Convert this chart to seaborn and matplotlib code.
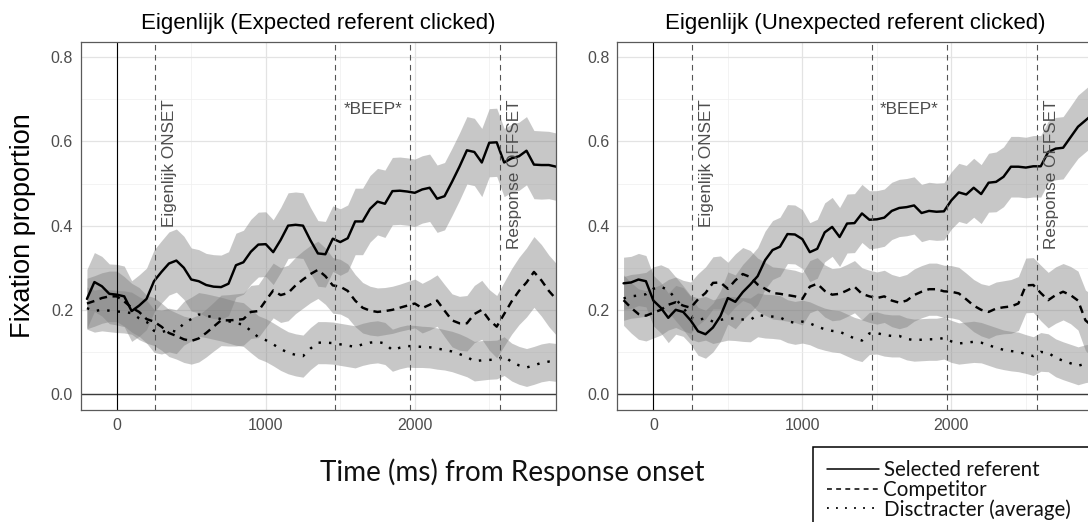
import numpy as np
import pandas as pd
import matplotlib
matplotlib.use("Agg")
import matplotlib.pyplot as plt
import seaborn as sns
from matplotlib.lines import Line2D
from matplotlib.ticker import MultipleLocator, FixedLocator, FormatStrFormatter

# ---------------- data ----------------
time_ms = [-200, -150, -100, -50, 0, 50, 100, 150, 200, 250,
           300, 350, 400, 450, 500, 550, 600, 650, 700, 750,
           800, 850, 900, 950, 1000, 1050, 1100, 1150, 1200, 1250,
           1300, 1350, 1400, 1450, 1500, 1550, 1600, 1650, 1700, 1750,
           1800, 1850, 1900, 1950, 2000, 2050, 2100, 2150, 2200, 2250,
           2300, 2350, 2400, 2450, 2500, 2550, 2600, 2650, 2700, 2750,
           2800, 2850, 2900, 2950]

# Panel 1: Expected referent clicked
sel_expected = [0.226, 0.266, 0.256, 0.238, 0.236, 0.232, 0.197, 0.210, 0.226, 0.268,
                0.290, 0.310, 0.317, 0.300, 0.272, 0.268, 0.259, 0.255, 0.254, 0.262,
                0.306, 0.313, 0.338, 0.355, 0.356, 0.337, 0.366, 0.400, 0.402, 0.400,
                0.365, 0.334, 0.332, 0.369, 0.361, 0.370, 0.410, 0.410, 0.440, 0.457,
                0.452, 0.482, 0.483, 0.481, 0.478, 0.486, 0.490, 0.464, 0.470, 0.504,
                0.540, 0.579, 0.575, 0.550, 0.597, 0.598, 0.550, 0.560, 0.565, 0.578,
                0.545, 0.544, 0.544, 0.540]
comp_expected = [0.215, 0.221, 0.228, 0.232, 0.232, 0.220, 0.205, 0.195, 0.178, 0.172,
                 0.160, 0.145, 0.138, 0.130, 0.126, 0.132, 0.145, 0.160, 0.175, 0.175,
                 0.176, 0.178, 0.195, 0.197, 0.222, 0.246, 0.235, 0.240, 0.258, 0.272,
                 0.285, 0.295, 0.280, 0.258, 0.255, 0.245, 0.222, 0.205, 0.198, 0.195,
                 0.197, 0.200, 0.205, 0.210, 0.215, 0.204, 0.212, 0.222, 0.198, 0.175,
                 0.168, 0.168, 0.190, 0.200, 0.176, 0.160, 0.190, 0.220, 0.245, 0.265,
                 0.290, 0.270, 0.245, 0.225]
dist_expected = [0.204, 0.197, 0.200, 0.198, 0.196, 0.195, 0.192, 0.180, 0.172, 0.150,
                 0.147, 0.152, 0.148, 0.168, 0.178, 0.189, 0.186, 0.182, 0.178, 0.173,
                 0.168, 0.165, 0.150, 0.135, 0.128, 0.118, 0.107, 0.098, 0.093, 0.090,
                 0.108, 0.122, 0.122, 0.121, 0.118, 0.115, 0.112, 0.118, 0.122, 0.124,
                 0.120, 0.104, 0.110, 0.114, 0.113, 0.112, 0.111, 0.108, 0.105, 0.101,
                 0.095, 0.088, 0.078, 0.080, 0.081, 0.082, 0.090, 0.076, 0.068, 0.063,
                 0.068, 0.074, 0.077, 0.075]
se_sel_expected = [0.070, 0.070, 0.071, 0.071, 0.072, 0.072, 0.072, 0.073, 0.073, 0.074,
                   0.074, 0.075, 0.075, 0.075, 0.075, 0.075, 0.075, 0.076, 0.076, 0.076,
                   0.076, 0.076, 0.077, 0.077, 0.077, 0.077, 0.077, 0.078, 0.078, 0.078,
                   0.078, 0.078, 0.078, 0.078, 0.079, 0.079, 0.079, 0.079, 0.079, 0.079,
                   0.080, 0.080, 0.080, 0.080, 0.080, 0.080, 0.080, 0.080, 0.080, 0.080,
                   0.080, 0.080, 0.080, 0.081, 0.081, 0.081, 0.081, 0.081, 0.081, 0.081,
                   0.081, 0.081, 0.080, 0.080]
se_comp_expected = [0.060, 0.060, 0.060, 0.060, 0.060, 0.059, 0.058, 0.058, 0.057, 0.057,
                    0.056, 0.056, 0.055, 0.055, 0.055, 0.056, 0.057, 0.058, 0.060, 0.061,
                    0.062, 0.062, 0.063, 0.063, 0.064, 0.065, 0.065, 0.066, 0.067, 0.068,
                    0.068, 0.068, 0.067, 0.066, 0.065, 0.064, 0.062, 0.060, 0.058, 0.057,
                    0.056, 0.056, 0.056, 0.057, 0.058, 0.059, 0.060, 0.061, 0.062, 0.063,
                    0.064, 0.066, 0.068, 0.070, 0.072, 0.074, 0.076, 0.078, 0.080, 0.082,
                    0.084, 0.085, 0.085, 0.085]
se_dist_expected = [0.050, 0.050, 0.050, 0.050, 0.050, 0.050, 0.050, 0.051, 0.051, 0.051,
                    0.052, 0.052, 0.052, 0.052, 0.052, 0.052, 0.052, 0.052, 0.052, 0.052,
                    0.052, 0.052, 0.052, 0.051, 0.051, 0.051, 0.051, 0.050, 0.050, 0.050,
                    0.050, 0.050, 0.050, 0.050, 0.050, 0.050, 0.050, 0.050, 0.050, 0.050,
                    0.050, 0.050, 0.050, 0.050, 0.050, 0.049, 0.049, 0.049, 0.048, 0.048,
                    0.048, 0.047, 0.047, 0.047, 0.046, 0.046, 0.046, 0.045, 0.045, 0.045,
                    0.045, 0.045, 0.045, 0.045]

# Panel 2: Unexpected referent clicked
sel_unexpected = [0.263, 0.265, 0.272, 0.268, 0.222, 0.205, 0.181, 0.200, 0.195, 0.175,
                  0.149, 0.142, 0.158, 0.185, 0.228, 0.219, 0.242, 0.260, 0.280, 0.318,
                  0.342, 0.350, 0.380, 0.379, 0.368, 0.337, 0.345, 0.384, 0.397, 0.373,
                  0.405, 0.406, 0.429, 0.414, 0.415, 0.419, 0.435, 0.442, 0.444, 0.448,
                  0.430, 0.435, 0.433, 0.434, 0.460, 0.479, 0.474, 0.490, 0.475, 0.502,
                  0.504, 0.516, 0.540, 0.540, 0.538, 0.541, 0.541, 0.575, 0.583, 0.585,
                  0.610, 0.635, 0.650, 0.665]
comp_unexpected = [0.223, 0.205, 0.190, 0.186, 0.193, 0.200, 0.212, 0.218, 0.210, 0.205,
                   0.225, 0.240, 0.264, 0.265, 0.250, 0.270, 0.285, 0.278, 0.260, 0.250,
                   0.240, 0.238, 0.235, 0.232, 0.226, 0.255, 0.262, 0.245, 0.236, 0.238,
                   0.246, 0.255, 0.238, 0.232, 0.228, 0.232, 0.222, 0.217, 0.222, 0.235,
                   0.243, 0.249, 0.249, 0.244, 0.243, 0.239, 0.225, 0.210, 0.200, 0.195,
                   0.203, 0.206, 0.208, 0.215, 0.258, 0.259, 0.240, 0.223, 0.235, 0.243,
                   0.235, 0.222, 0.175, 0.160]
dist_unexpected = [0.227, 0.232, 0.234, 0.237, 0.250, 0.255, 0.247, 0.226, 0.205, 0.182,
                   0.176, 0.180, 0.172, 0.176, 0.180, 0.179, 0.177, 0.176, 0.188, 0.185,
                   0.184, 0.182, 0.173, 0.169, 0.172, 0.168, 0.160, 0.154, 0.150, 0.148,
                   0.140, 0.132, 0.127, 0.144, 0.145, 0.140, 0.138, 0.138, 0.131, 0.128,
                   0.129, 0.130, 0.130, 0.133, 0.125, 0.120, 0.122, 0.124, 0.122, 0.116,
                   0.110, 0.105, 0.102, 0.100, 0.095, 0.090, 0.100, 0.098, 0.086, 0.079,
                   0.073, 0.067, 0.072, 0.075]
se_sel_unexpected = [0.062, 0.062, 0.062, 0.061, 0.060, 0.060, 0.059, 0.058, 0.058, 0.057,
                     0.057, 0.057, 0.058, 0.060, 0.062, 0.064, 0.066, 0.067, 0.068, 0.069,
                     0.070, 0.070, 0.070, 0.070, 0.070, 0.070, 0.070, 0.070, 0.070, 0.070,
                     0.070, 0.070, 0.069, 0.069, 0.068, 0.068, 0.068, 0.068, 0.068, 0.068,
                     0.068, 0.068, 0.068, 0.068, 0.068, 0.069, 0.069, 0.070, 0.070, 0.070,
                     0.071, 0.071, 0.072, 0.072, 0.072, 0.073, 0.073, 0.073, 0.074, 0.074,
                     0.074, 0.075, 0.075, 0.075]
se_comp_unexpected = [0.060, 0.060, 0.060, 0.060, 0.060, 0.060, 0.060, 0.060, 0.060, 0.061,
                      0.061, 0.062, 0.062, 0.063, 0.063, 0.063, 0.063, 0.063, 0.063, 0.063,
                      0.062, 0.062, 0.062, 0.062, 0.062, 0.062, 0.062, 0.062, 0.062, 0.062,
                      0.062, 0.062, 0.062, 0.062, 0.062, 0.062, 0.062, 0.062, 0.062, 0.062,
                      0.062, 0.062, 0.062, 0.062, 0.062, 0.062, 0.062, 0.062, 0.062, 0.063,
                      0.063, 0.063, 0.064, 0.064, 0.065, 0.065, 0.066, 0.066, 0.067, 0.067,
                      0.068, 0.070, 0.072, 0.074]
se_dist_unexpected = [0.052, 0.052, 0.052, 0.052, 0.052, 0.052, 0.052, 0.052, 0.052, 0.052,
                      0.052, 0.052, 0.052, 0.052, 0.052, 0.052, 0.052, 0.052, 0.052, 0.052,
                      0.052, 0.052, 0.051, 0.051, 0.051, 0.051, 0.051, 0.050, 0.050, 0.050,
                      0.050, 0.050, 0.050, 0.050, 0.050, 0.050, 0.050, 0.050, 0.050, 0.050,
                      0.050, 0.050, 0.050, 0.050, 0.050, 0.049, 0.049, 0.049, 0.048, 0.048,
                      0.048, 0.047, 0.047, 0.047, 0.046, 0.046, 0.046, 0.045, 0.045, 0.045,
                      0.045, 0.045, 0.045, 0.045]

panel_titles = ["Eigenlijk (Expected referent clicked)",
                "Eigenlijk (Unexpected referent clicked)"]
series_labels = ["Selected referent", "Competitor", "Disctracter (average)"]
event_times = [257, 1468, 1970, 2572]
event_labels = ["Eigenlijk ONSET", "*BEEP*", "Response OFFSET"]
x_ticks = [0, 1000, 2000]
y_ticks = [0.0, 0.2, 0.4, 0.6, 0.8]
x_label = "Time (ms) from Response onset"
y_label = "Fixation proportion"

panels = [
    {"sel": sel_expected, "comp": comp_expected, "dist": dist_expected,
     "se_sel": se_sel_expected, "se_comp": se_comp_expected, "se_dist": se_dist_expected},
    {"sel": sel_unexpected, "comp": comp_unexpected, "dist": dist_unexpected,
     "se_sel": se_sel_unexpected, "se_comp": se_comp_unexpected, "se_dist": se_dist_unexpected},
]

# ---------------- style ----------------
sns.set_theme(style="white")
plt.rcParams['font.family'] = ['Liberation Sans', 'DejaVu Sans']

W, H = 1088, 522
fig = plt.figure(figsize=(W / 100, H / 100), dpi=100)


def fig_rect(x0, y0, x1, y1):
    return [x0 / W, 1 - y1 / H, (x1 - x0) / W, (y1 - y0) / H]


ax_l = fig.add_axes(fig_rect(80.7, 41.7, 556.0, 410.0))
ax_r = fig.add_axes(fig_rect(617.3, 41.7, 1092.6, 410.0))

LW = 1.75
styles = {
    "sel": dict(linestyle="-"),
    "comp": dict(linestyle=(0, (3.2, 2.3))),
    "dist": dict(linestyle=(0, (1.0, 3.3))),
}
band_color = "#7f7f7f"
band_alpha = 0.43
text_gray = "#4d4d4d"

for ax, p, title in zip([ax_l, ax_r], panels, panel_titles):
    ax.set_facecolor("white")
    ax.set_xlim(-242, 2948)
    ax.set_ylim(-0.038, 0.837)
    ax.xaxis.set_major_locator(FixedLocator(x_ticks))
    ax.yaxis.set_major_locator(FixedLocator(y_ticks))
    ax.xaxis.set_minor_locator(MultipleLocator(500))
    ax.yaxis.set_minor_locator(MultipleLocator(0.1))
    ax.yaxis.set_major_formatter(FormatStrFormatter("%.1f"))
    ax.set_axisbelow(True)
    ax.grid(which="major", color="#e3e3e3", lw=0.9)
    ax.grid(which="minor", color="#efefef", lw=0.5)
    ax.tick_params(which="major", length=3, width=0.8, color="#333333",
                   labelsize=11.5, labelcolor=text_gray, pad=2.5)
    ax.tick_params(which="minor", length=0)
    for sp in ax.spines.values():
        sp.set_color("#5a5a5a")
        sp.set_linewidth(0.9)
        sp.set_visible(True)

    for key in ["sel", "comp", "dist"]:
        mean = np.array(p[key])
        se = np.array(p["se_" + key])
        ax.fill_between(time_ms, mean - se, mean + se, color=band_color,
                        alpha=band_alpha, lw=0)
        df = pd.DataFrame({"time": time_ms, "value": mean})
        sns.lineplot(data=df, x="time", y="value", ax=ax, color="black",
                     lw=LW, errorbar=None, legend=False, **styles[key])

    ax.axhline(0, color="#3a3a3a", lw=1.0)
    ax.axvline(0, color="black", lw=0.8)
    for t in event_times:
        ax.axvline(t, color="#555555", lw=0.8, ls=(0, (5, 4)))

    ax.text(event_times[0] + 100, 0.70, event_labels[0], rotation=90,
            ha="center", va="top", fontsize=12.3, color=text_gray)
    ax.text((event_times[1] + event_times[2]) / 2, 0.675, event_labels[1],
            ha="center", va="center", fontsize=12.3, color=text_gray)
    ax.text(event_times[3] + 100, 0.70, event_labels[2], rotation=90,
            ha="center", va="top", fontsize=12.3, color=text_gray)

    ax.set_xlabel("")
    ax.set_ylabel("")
    ax.set_title(title, fontsize=16, pad=9.3, color="black")

# y label
ax_l.set_ylabel(y_label, fontsize=19.5, color="black")
ax_l.yaxis.set_label_coords((23 - 80.7) / 475.3, 0.5)
ax_l.yaxis.label.set_va("center")
ax_l.yaxis.label.set_ha("center")
ax_l.yaxis.label.set_rotation_mode("default")

renderer = fig.canvas.get_renderer()
LEG_FONT = ["Lato", "DejaVu Sans"]


def text_box(text, family, size):
    t = fig.text(0, 0, text, family=family, fontsize=size)
    bb = t.get_window_extent(renderer)
    t.remove()
    return bb


def fitted_size(text, family, target_px, base=12.0):
    return base * target_px / text_box(text, family, base).width


xl_size = fitted_size("Time (ms) from Response", LEG_FONT, 308)
fig.text(320 / W, 1 - 472 / H, x_label, ha="left", va="center",
         fontsize=xl_size, family=LEG_FONT, color="#111111")

# legend: rows ~19.5 px apart, text boxes must not overlap
PITCH = 19.5
leg_size = fitted_size("Selected referent", LEG_FONT, 165)
h = text_box("Selected referent", LEG_FONT, leg_size).height
if h > PITCH - 0.6:
    leg_size *= (PITCH - 0.6) / h
leg_px = leg_size * 100 / 72
handles = [
    Line2D([], [], color="black", lw=1.1, ls="-"),
    Line2D([], [], color="black", lw=1.1, ls=(0, (3.2, 2.8))),
    Line2D([], [], color="black", lw=1.3, ls=(0, (1.0, 4.0))),
]


def make_legend(labelspacing, borderpad):
    lg = fig.legend(handles, series_labels, loc="upper left",
                    bbox_to_anchor=(813 / W, 0.0, 300 / W, 1 - 447 / H),
                    mode="expand",
                    frameon=True, fancybox=False, edgecolor="black", framealpha=1,
                    prop={"family": LEG_FONT, "size": leg_size},
                    handlelength=52 / leg_px, handletextpad=5 / leg_px,
                    labelspacing=labelspacing, borderpad=borderpad, borderaxespad=0)
    lg.get_frame().set_linewidth(1.1)
    for txt in lg.get_texts():
        txt.set_color("#111111")
    return lg


ls0 = 0.0
leg = make_legend(ls0, 0.55)
fig.canvas.draw()
boxes = [t.get_window_extent(renderer) for t in leg.get_texts()]
pitch = (boxes[0].y0 - boxes[2].y0) / 2.0
ls1 = ls0 + (PITCH - pitch) / leg_px
leg.remove()
leg = make_legend(ls1, 0.55)
fig.canvas.draw()
first = leg.get_texts()[0].get_window_extent(renderer)
row_center_px = H - (first.y0 + first.y1) / 2.0
bp = 0.55 + (470.5 - row_center_px) / leg_px
leg.remove()
leg = make_legend(ls1, max(bp, 0.3))

fig.savefig("out.png", dpi=100, facecolor="white")
